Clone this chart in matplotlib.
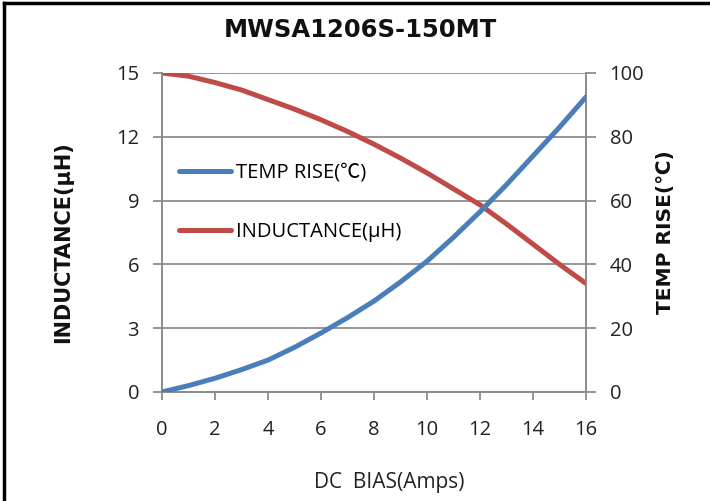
import matplotlib
matplotlib.use("Agg")
import matplotlib.pyplot as plt
from matplotlib.lines import Line2D

# ── data ─────────────────────────────────────────────────────────────────────
dc_bias    = [0, 1, 2, 3, 4, 5, 6, 7, 8, 9, 10, 11, 12, 13, 14, 15, 16]
inductance = [15.0, 14.85, 14.55, 14.2, 13.75, 13.3, 12.8, 12.25, 11.65,
              11.0, 10.3, 9.55, 8.8, 7.9, 6.95, 6.0, 5.1]
temp_rise  = [0.0, 2.0, 4.3, 7.0, 10.0, 14.0, 18.5, 23.3, 28.5,
              34.5, 41.0, 48.5, 56.5, 65.0, 74.0, 83.0, 92.5]

x_ticks  = list(range(0, 17, 2))
l_ticks  = [0, 3, 6, 9, 12, 15]
r_ticks  = [0, 20, 40, 60, 80, 100]

TITLE   = "MWSA1206S-150MT"
XLABEL  = "DC  BIAS(Amps)"
YLABEL  = "INDUCTANCE(μH)"
Y2LABEL = "TEMP RISE(℃)"
LBL_T   = "TEMP RISE(℃)"
LBL_L   = "INDUCTANCE(μH)"

BLUE = "#4A7EBB"
RED  = "#BE4B48"
GRID = "#8C8C8C"
BOLDFAM = ["DejaVu Sans", "Noto Sans CJK SC"]
TXTFAM  = ["Open Sans", "Noto Sans CJK SC", "DejaVu Sans"]
TXTSIZE = 14.5

plt.rcParams["font.family"] = BOLDFAM

fig = plt.figure(figsize=(7.10, 5.01), dpi=100)
ax = fig.add_axes([0.2282, 0.2176, 0.8254 - 0.2282, 0.8543 - 0.2176])
ax2 = ax.twinx()

ax.plot(dc_bias, inductance, color=RED, linewidth=3.6, solid_capstyle="round",
        label=LBL_L, zorder=3)
ax2.plot(dc_bias, temp_rise, color=BLUE, linewidth=3.6, solid_capstyle="round",
         label=LBL_T, zorder=3)

ax.set_xlim(0, 16)
ax.set_ylim(0, 15)
ax2.set_ylim(0, 100)
ax.set_xticks(x_ticks)
ax.set_yticks(l_ticks)
ax2.set_yticks(r_ticks)

ax.grid(True, axis="y", color=GRID, linewidth=1.3)
ax.set_axisbelow(True)

for a in (ax, ax2):
    for sp in a.spines.values():
        sp.set_color(GRID)
        sp.set_linewidth(1.3)
    a.spines["top"].set_visible(False)

ax.tick_params(axis="y", direction="out", length=6.5, width=1.3, color=GRID,
               labelsize=TXTSIZE, labelcolor="#222222", pad=10)
ax.tick_params(axis="x", direction="out", length=6, width=1.3, color=GRID,
               labelsize=TXTSIZE, labelcolor="#222222", pad=14.5)
ax2.tick_params(axis="y", direction="out", length=7, width=1.3, color=GRID,
                labelsize=TXTSIZE, labelcolor="#222222", pad=10)
for lab in ax.get_xticklabels() + ax.get_yticklabels() + ax2.get_yticklabels():
    lab.set_fontfamily(TXTFAM)

ax.set_xlabel(XLABEL, fontsize=15, family=TXTFAM, color="#222222")
ax.xaxis.set_label_coords(0.537, -0.25)
ax.set_ylabel(YLABEL, fontsize=15, fontweight="bold", color="#111111")
ax.yaxis.set_label_coords(-0.21, 0.47)
ax2.set_ylabel(Y2LABEL, fontsize=14.5, fontweight="bold", color="#111111",
               rotation=90)
ax2.yaxis.set_label_coords(1.166, 0.5)

fig.text(0.507, 0.94, TITLE, ha="center", va="center", fontsize=17.5,
         fontweight="bold", color="#111111")

h1, l1 = ax2.get_legend_handles_labels()
h2, l2 = ax.get_legend_handles_labels()
leg = ax2.legend(h1 + h2, l1 + l2, loc="center left",
                 bbox_to_anchor=(0.02, 0.595), frameon=False,
                 prop={"family": TXTFAM, "size": TXTSIZE},
                 handlelength=2.6, handletextpad=0.25,
                 labelspacing=1.95, borderaxespad=0)

# outer frame (left and top edges only)
fig.add_artist(Line2D([0.005, 0.005], [0, 0.995], transform=fig.transFigure,
                      color="black", linewidth=2.5))
fig.add_artist(Line2D([0.005, 1.0], [0.995, 0.995], transform=fig.transFigure,
                      color="black", linewidth=2.5))

fig.savefig("out.png", dpi=100)
